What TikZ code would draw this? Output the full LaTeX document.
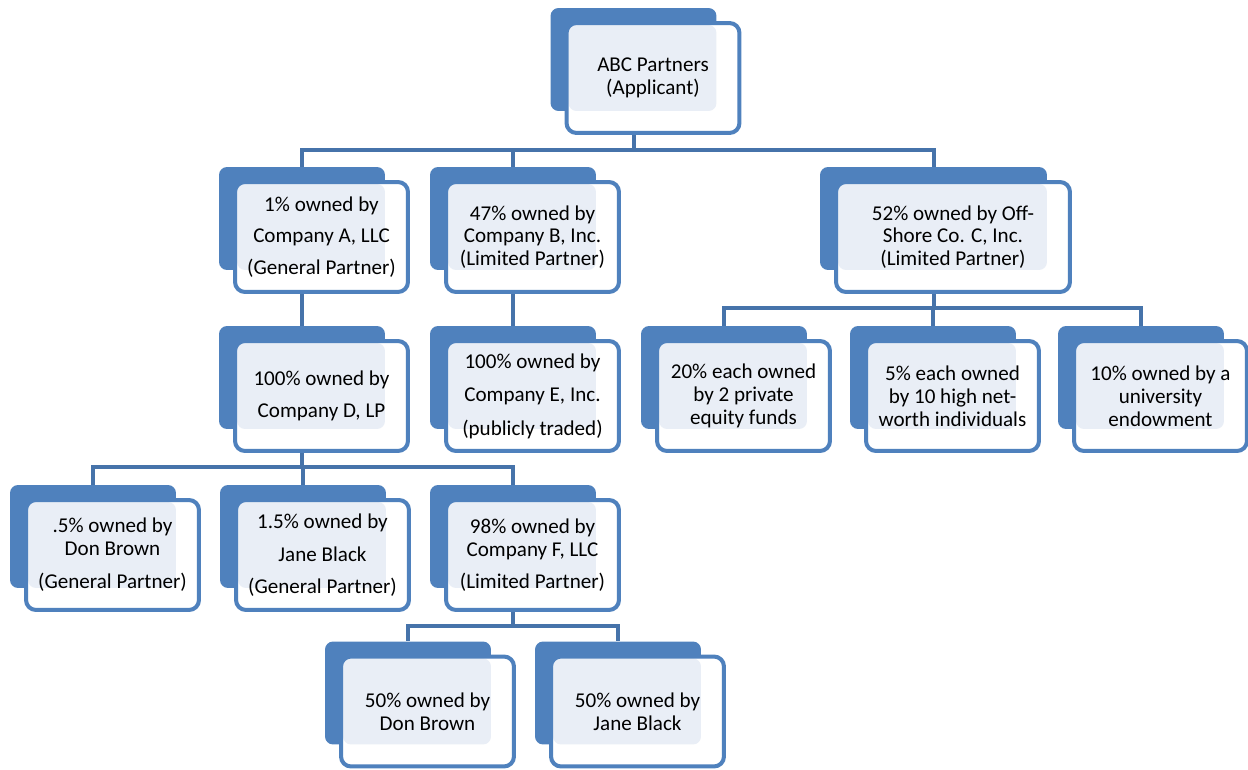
\documentclass[tikz,border=0pt]{standalone}
\usepackage{fontspec}
\setmainfont{Carlito}
\usepackage{tikz}
\usetikzlibrary{backgrounds}

\begin{document}
\begin{tikzpicture}[x=0.02cm, y=-0.02cm,
        back/.style={fill=boxblue, rounded corners=0.16cm, inner sep=0pt,
            minimum width=3.32cm, minimum height=2.06cm},
        front/.style={draw=boxblue, line width=0.08cm, fill=white,
            rounded corners=0.2cm, inner sep=0pt, align=center,
            minimum width=3.46cm, minimum height=2.2cm,
            font=\fontsize{12}{13}\selectfont,
            path picture={\fill[boxlight, rounded corners=0.16cm]
                ([shift={(2,2)}]path picture bounding box.north west) rectangle
                ([shift={(-23,-22)}]path picture bounding box.south east);}},
        link/.style={draw=linkblue, line width=0.08cm}]
        % Define colors
        \definecolor{boxblue}{RGB}{79, 129, 189}   % shadow and frame
        \definecolor{boxlight}{RGB}{233, 238, 246} % tinted inner part
        \definecolor{linkblue}{RGB}{70, 115, 170}  % connectors

        \useasboundingbox (0,0) rectangle (1248,770);

        % Applicant
        \node[back] (b-abc) at (633.5,59.5) {};
        \node[front] (abc) at ([shift={(19.5,18.5)}]b-abc.center) {ABC Partners\\(Applicant)};

        % Partners of ABC
        \node[back] (b-ca) at (302,218.5) {};
        \node[front] (ca) at ([shift={(19.5,18.5)}]b-ca.center) {1\% owned by\\[5pt]Company A, LLC\\[5pt](General Partner)};
        \node[back] (b-cb) at (513,218.5) {};
        \node[front] (cb) at ([shift={(19.5,18.5)}]b-cb.center) {47\% owned by\\Company B, Inc.\\(Limited Partner)};
        \node[back, minimum width=4.54cm] (b-cc) at (933.5,218.5) {};
        \node[front, minimum width=4.68cm] (cc) at ([shift={(19.5,18.5)}]b-cc.center) {52\% owned by Off-\\Shore Co. C, Inc.\\(Limited Partner)};

        % Owners of the partners
        \node[back] (b-cd) at (302,377.5) {};
        \node[front] (cd) at ([shift={(19.5,18.5)}]b-cd.center) {100\% owned by\\[5pt]Company D, LP};
        \node[back] (b-ce) at (513,377.5) {};
        \node[front] (ce) at ([shift={(19.5,18.5)}]b-ce.center) {100\% owned by\\[6pt]Company E, Inc.\\[6pt](publicly traded)};
        \node[back] (b-funds) at (724,377.5) {};
        \node[front] (funds) at ([shift={(19.5,18.5)}]b-funds.center) {20\% each owned\\by 2 private\\equity funds};
        \node[back] (b-indiv) at (933,377.5) {};
        \node[front] (indiv) at ([shift={(19.5,18.5)}]b-indiv.center) {5\% each owned\\by 10 high net-\\worth individuals};
        \node[back] (b-univ) at (1141,377.5) {};
        \node[front] (univ) at ([shift={(19.5,18.5)}]b-univ.center) {10\% owned by a\\university\\endowment};

        % Partners of Company D
        \node[back] (b-don) at (93,536.5) {};
        \node[front] (don) at ([shift={(19.5,18.5)}]b-don.center) {.5\% owned by\\Don Brown\\[6pt](General Partner)};
        \node[back] (b-jane) at (303,536.5) {};
        \node[front] (jane) at ([shift={(19.5,18.5)}]b-jane.center) {1.5\% owned by\\[6pt]Jane Black\\[5pt](General Partner)};
        \node[back] (b-cf) at (513,536.5) {};
        \node[front] (cf) at ([shift={(19.5,18.5)}]b-cf.center) {98\% owned by\\Company F, LLC\\[5pt](Limited Partner)};

        % Owners of Company F
        \node[back] (b-fdon) at (408,693) {};
        \node[front] (fdon) at ([shift={(19.5,18.5)}]b-fdon.center) {50\% owned by\\Don Brown};
        \node[back] (b-fjane) at (618,693) {};
        \node[front] (fjane) at ([shift={(19.5,18.5)}]b-fjane.center) {50\% owned by\\Jane Black};

        % Bus levels
        \coordinate (bus1) at (0,150);
        \coordinate (bus2) at (0,308);
        \coordinate (bus3) at (0,467);
        \coordinate (bus4) at (0,626);

        % Connectors
        \begin{scope}[on background layer]
            \draw[link] (b-abc.south) -- (b-abc.south |- bus1) -| (b-ca.north);
            \draw[link] (b-abc.south) -- (b-abc.south |- bus1) -| (b-cb.north);
            \draw[link] (b-abc.south) -- (b-abc.south |- bus1) -| (b-cc.north);

            \draw[link] (b-ca.south) -- (b-cd.north);
            \draw[link] (b-cb.south) -- (b-ce.north);

            \draw[link] (b-cc.south) -- (b-cc.south |- bus2) -| (b-funds.north);
            \draw[link] (b-cc.south) -- (b-cc.south |- bus2) -| (b-indiv.north);
            \draw[link] (b-cc.south) -- (b-cc.south |- bus2) -| (b-univ.north);

            \draw[link] (b-cd.south) -- (b-cd.south |- bus3) -| (b-don.north);
            \draw[link] (b-cd.south) -- (b-cd.south |- bus3) -| (b-jane.north);
            \draw[link] (b-cd.south) -- (b-cd.south |- bus3) -| (b-cf.north);

            \draw[link] (b-cf.south) -- (b-cf.south |- bus4) -| (b-fdon.north);
            \draw[link] (b-cf.south) -- (b-cf.south |- bus4) -| (b-fjane.north);
        \end{scope}
\end{tikzpicture}
\end{document}
